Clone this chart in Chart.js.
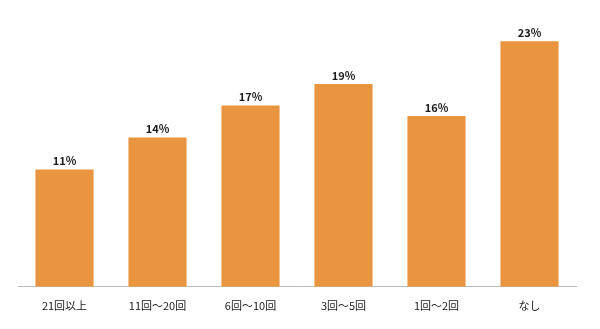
<!DOCTYPE html>
<html>
<head>
<meta charset="utf-8">
<script src="https://cdn.jsdelivr.net/npm/chart.js@4"></script>
<style>
  html, body { margin: 0; padding: 0; background: #fff; }
  #wrap { width: 600px; height: 329px; }
</style>
</head>
<body>
<div id="wrap"><canvas id="chart"></canvas></div>
<script>
const categories = ['21回以上', '11回～20回', '6回～10回', '3回～5回', '1回～2回', 'なし'];
const values = [11, 14, 17, 19, 16, 23];

const barColor = '#E9953F';
const fontFamily = '"Noto Sans CJK JP", "Noto Sans", sans-serif';

const valueLabels = {
    id: 'valueLabels',
    afterDatasetsDraw(chart) {
        const ctx = chart.ctx;
        const meta = chart.getDatasetMeta(0);
        ctx.save();
        ctx.fillStyle = '#1a1a1a';
        ctx.font = `bold 11px ${fontFamily}`;
        ctx.textAlign = 'center';
        ctx.textBaseline = 'bottom';
        meta.data.forEach((bar, i) => {
            ctx.fillText(values[i] + '%', bar.x, bar.y - 3);
        });
        ctx.restore();
    }
};

new Chart(document.getElementById('chart').getContext('2d'), {
    type: 'bar',
    data: {
        labels: categories,
        datasets: [{
            data: values,
            backgroundColor: barColor,
            borderWidth: 0,
            barPercentage: 0.625,
            categoryPercentage: 1.0
        }]
    },
    options: {
        responsive: true,
        maintainAspectRatio: false,
        animation: false,
        layout: { padding: { left: 18, right: 24, top: 20, bottom: 13 } },
        scales: {
            y: {
                display: false,
                min: 0,
                max: 25
            },
            x: {
                grid: { display: false },
                border: { display: true, color: '#bbbbbb', width: 1 },
                ticks: {
                    color: '#1a1a1a',
                    padding: 4,
                    font: { family: fontFamily, size: 11 }
                }
            }
        },
        plugins: {
            legend: { display: false },
            tooltip: { enabled: false }
        }
    },
    plugins: [valueLabels]
});
</script>
</body>
</html>
